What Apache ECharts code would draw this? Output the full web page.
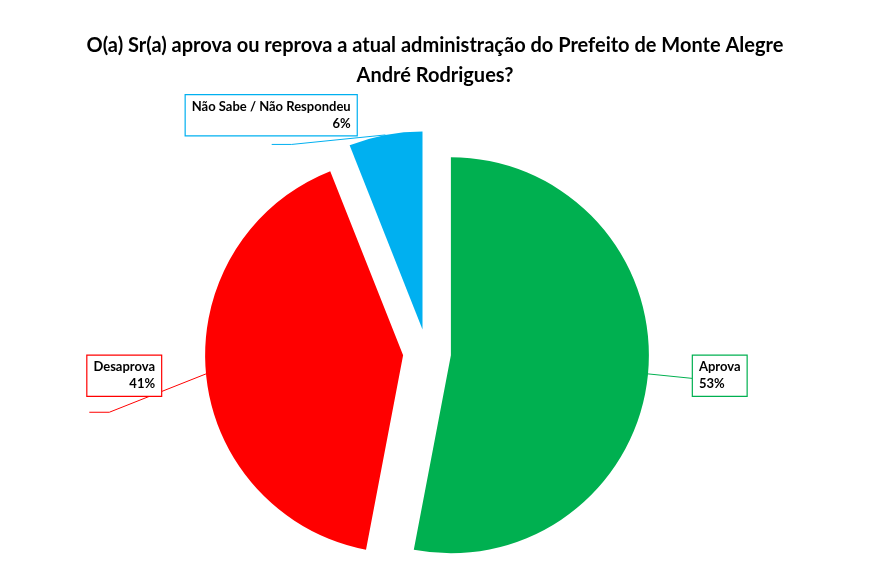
<!DOCTYPE html>
<html><head><meta charset="utf-8">
<script src="https://cdn.jsdelivr.net/npm/echarts@6/dist/echarts.min.js"></script>
<style>html,body{margin:0;padding:0;background:#fff}#c{width:896px;height:561px}</style>
</head><body><div id="c"></div>
<script>
const categories = ['Aprova', 'Desaprova', 'Não Sabe / Não Respondeu'];
const values = [53, 41, 6];
const colors = ['#00B050', '#FF0000', '#00B0F0'];
const labelPos = [[708, 378, 'left'], [112, 410, 'right'], [275, 168, 'right']];

const chart = echarts.init(document.getElementById('c'));
chart.setOption({
  animation: false,
  title: {
    text: 'O(a) Sr(a) aprova ou reprova a atual administração do Prefeito de Monte Alegre\nAndré Rodrigues?',
    left: 430, textAlign: 'center', top: 26,
    textStyle: { fontFamily: 'Lato', fontWeight: 'bold', fontSize: 20, lineHeight: 30, color: '#000' }
  },
  series: [{
    type: 'pie',
    center: [427, 353],
    radius: [0, 198],
    startAngle: 90,
    clockwise: true,
    selectedMode: 'multiple',
    selectedOffset: 24,
    data: categories.map((c, i) => ({
      name: c, value: values[i], selected: true,
      itemStyle: { color: colors[i] },
      label: { borderColor: colors[i] },
      labelLine: { lineStyle: { color: colors[i] } }
    })),
    label: {
      show: true,
      formatter: p => p.name + '\n' + p.value + '%',
      fontFamily: 'Lato', fontWeight: 'bold', fontSize: 13, lineHeight: 17,
      color: '#000', backgroundColor: '#fff', borderWidth: 1.2,
      padding: [3, 6]
    },
    labelLine: { show: true, length: 20, length2: 20, lineStyle: { width: 1 } },
    labelLayout: p => ({ x: labelPos[p.dataIndex][0], y: labelPos[p.dataIndex][1], align: labelPos[p.dataIndex][2], verticalAlign: 'middle' })
  }]
});
</script></body></html>
